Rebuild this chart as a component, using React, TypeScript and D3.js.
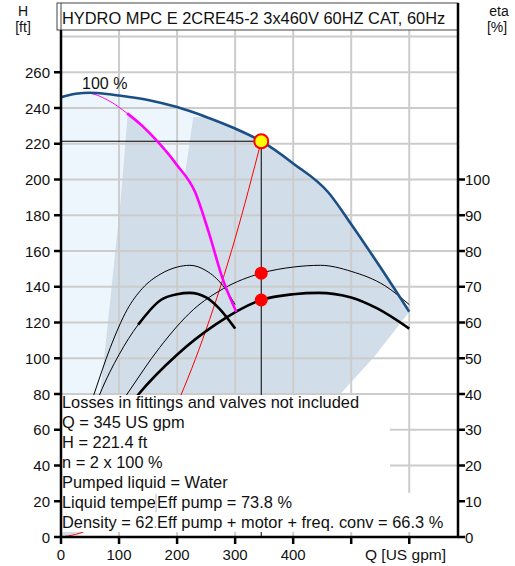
import React, { useEffect, useRef } from 'react';
import * as d3 from 'd3';

// QH curve, 2 pumps at 100 % speed
const qhFlow = [0, 25, 50, 75, 100, 150, 200, 250, 300, 345, 400, 460, 500, 550, 600];
const qhHead = [246, 248, 248.5, 248, 247, 244.5, 240.5, 235, 228.5, 221.4, 209, 193, 175, 151, 126];

// QH curve, 1 pump (magenta)
const oneFlow = [0, 25, 45, 80, 114, 140, 167, 200, 231, 255, 279, 302];
const oneHead = [246, 248, 248.3, 244.5, 237, 230, 221, 208, 193, 170, 144, 126];

// system curve
const sysFlow = [0, 50, 100, 150, 200, 250, 300, 345];
const sysHead = [0, 4.6, 18.6, 41.8, 74.4, 116, 167, 221.4];

// efficiency curves [%]
const etaP1Flow = [30, 57, 85, 114, 140, 172, 200, 222, 250, 279, 300];
const etaP1 = [27, 40, 53, 63.6, 69.5, 73.6, 75.5, 76, 74.5, 70.3, 65];
const etaP2Flow = [60, 114, 170, 228, 280, 345, 400, 447, 500, 558, 600];
const etaP2 = [27, 40, 53, 63.6, 69.5, 73.8, 75.5, 76, 74.3, 70.3, 65];
const etaT1Flow = [40, 67, 100, 133, 172, 200, 222, 250, 272, 300];
const etaT1 = [28, 40, 51, 59.4, 66.3, 67.9, 68.3, 67, 64, 58.3];
const etaT2Flow = [80, 134, 200, 266, 345, 400, 444, 500, 544, 600];
const etaT2 = [28, 40, 51, 59.4, 66.3, 67.9, 68.3, 67, 64, 58.3];

// operating range boundaries
const minOneFlow = [0, 40, 67, 74, 93, 102, 115];
const minOneHead = [0, 29, 80, 99, 158, 185, 237];
const maxOneFlow = [0, 100, 200, 302];
const maxOneHead = [0, 14, 55, 126];
const minTwoFlow = [0, 100, 150, 200, 214, 228];
const minTwoHead = [0, 45, 101, 180, 204, 235];
const maxTwoFlow = [0, 200, 300, 400, 484, 540, 600];
const maxTwoHead = [0, 14, 31, 56, 81, 101, 126];

// duty point
const dutyQ = 345;
const dutyH = 221.4;
const dutyEtaPump = 73.8;
const dutyEtaTotal = 66.3;

const headTicks = d3.range(0, 261, 20);
const etaTicks = d3.range(0, 101, 10);
const flowTicks = [0, 100, 200, 300, 400, 500, 600];
const flowLabels = ['0', '100', '200', '300', '400', '', ''];

const infoLines = [
  'Losses in fittings and valves not included',
  'Q = 345 US gpm',
  'H = 221.4 ft',
  'n = 2 x 100 %',
  'Pumped liquid = Water',
];
const infoLeft = ['Liquid tempe', 'Density = 62.'];
const infoRight = ['Eff pump = 73.8 %', 'Eff pump + motor + freq. conv = 66.3 %'];

const zip = (a: number[], b: number[]) => a.map((v, i) => [v, b[i]] as [number, number]);

const App = () => {
  const svgRef = useRef<SVGSVGElement>(null);

  useEffect(() => {
    const svg = d3.select(svgRef.current);
    svg.selectAll('*').remove();
    const font = 'Liberation Sans, Arial, sans-serif';

    const x = d3.scaleLinear().domain([0, 684]).range([61, 458]);
    const y = d3.scaleLinear().domain([0, 280]).range([537, 36.5]);
    const yEta = d3.scaleLinear().domain([0, 140]).range([537, 36.5]);

    const lineH = d3.line<[number, number]>().x((d) => x(d[0])).y((d) => y(d[1])).curve(d3.curveMonotoneX);
    const lineEta = d3.line<[number, number]>().x((d) => x(d[0])).y((d) => yEta(d[1])).curve(d3.curveMonotoneX);
    const poly = d3.line<[number, number]>().x((d) => x(d[0])).y((d) => y(d[1]));

    const qh = zip(qhFlow, qhHead);
    const one = zip(oneFlow, oneHead);

    svg.append('defs').append('clipPath').attr('id', 'leftcol')
      .append('rect').attr('x', 60).attr('y', 490).attr('width', 95.5).attr('height', 45);

    // shaded areas
    const light = [...qh, ...zip(maxTwoFlow, maxTwoHead).reverse()];
    svg.append('path').attr('d', poly(light) + 'Z').attr('fill', '#eef6fd');

    const grayOne = [
      ...zip(minOneFlow, minOneHead),
      ...one.filter((d) => d[0] > 115),
      ...zip(maxOneFlow, maxOneHead).reverse().slice(1),
    ];
    svg.append('path').attr('d', poly(grayOne) + 'Z').attr('fill', '#d1dde8');

    const grayTwo = [
      ...zip(minTwoFlow, minTwoHead),
      ...qh.filter((d) => d[0] > 228),
      ...zip(maxTwoFlow, maxTwoHead).reverse().slice(1),
    ];
    svg.append('path').attr('d', poly(grayTwo) + 'Z').attr('fill', '#d1dde8');

    // grid
    const grid = svg.append('g').attr('stroke', '#cccccc').attr('stroke-width', 2);
    d3.range(20, 281, 20).forEach((h) => {
      grid.append('line').attr('x1', x(0)).attr('x2', 458).attr('y1', y(h)).attr('y2', y(h));
    });
    flowTicks.slice(1).forEach((q) => {
      grid.append('line').attr('x1', x(q)).attr('x2', x(q)).attr('y1', 30).attr('y2', 537);
    });

    // system curve
    svg.append('path').attr('d', lineH(zip(sysFlow, sysHead))).attr('fill', 'none').attr('stroke', '#ff0000').attr('stroke-width', 1);

    // duty lines
    svg.append('line').attr('x1', x(0)).attr('x2', x(dutyQ)).attr('y1', y(dutyH)).attr('y2', y(dutyH)).attr('stroke', '#000').attr('stroke-width', 1);
    svg.append('line').attr('x1', x(dutyQ)).attr('x2', x(dutyQ)).attr('y1', y(dutyH)).attr('y2', 537).attr('stroke', '#000').attr('stroke-width', 1);

    // efficiency curves
    const eta = (qs: number[], es: number[], w: number, from = 0) => {
      svg.append('path').attr('d', lineEta(zip(qs, es).filter((d) => d[0] >= from))).attr('fill', 'none').attr('stroke', '#000').attr('stroke-width', w);
    };
    eta(etaP1Flow, etaP1, 1);
    eta(etaP2Flow, etaP2, 1);
    eta(etaT1Flow, etaT1, 1);
    eta(etaT1Flow, etaT1, 2.6, 133);
    eta(etaT2Flow, etaT2, 2.6);

    // one pump curve
    svg.append('path').attr('d', lineH(one)).attr('fill', 'none').attr('stroke', '#ff00ff').attr('stroke-width', 1);
    svg.append('path').attr('d', lineH(one.filter((d) => d[0] >= 114))).attr('fill', 'none').attr('stroke', '#ff00ff').attr('stroke-width', 2.6);

    // QH curve
    svg.append('path').attr('d', lineH(qh)).attr('fill', 'none').attr('stroke', '#1b4f86').attr('stroke-width', 2.6);

    // duty point markers
    svg.append('circle').attr('cx', x(dutyQ)).attr('cy', yEta(dutyEtaPump)).attr('r', 6.5).attr('fill', '#ff0000');
    svg.append('circle').attr('cx', x(dutyQ)).attr('cy', yEta(dutyEtaTotal)).attr('r', 6.5).attr('fill', '#ff0000');
    svg.append('circle').attr('cx', x(dutyQ)).attr('cy', y(dutyH)).attr('r', 7).attr('fill', '#ffff00').attr('stroke', '#ff0000').attr('stroke-width', 2);

    svg.append('text').attr('x', 82).attr('y', 89).attr('font-family', font).attr('font-size', 16).attr('fill', '#111').text('100 %');

    // info box
    svg.append('rect').attr('x', 62).attr('y', 395).attr('width', 328).attr('height', 98).attr('fill', '#fff');
    svg.append('rect').attr('x', 62).attr('y', 493).attr('width', 395).attr('height', 39).attr('fill', '#fff');
    infoLines.forEach((t, i) => {
      svg.append('text').attr('x', 62).attr('y', 408 + i * 20).attr('font-family', font).attr('font-size', 16.4).attr('fill', '#111').text(t);
    });
    svg.append('line').attr('x1', 156).attr('x2', 156).attr('y1', 494).attr('y2', 512).attr('stroke', '#bbb').attr('stroke-width', 1);
    infoLeft.forEach((t, i) => {
      svg.append('text').attr('x', 62).attr('y', 508 + i * 20).attr('clip-path', 'url(#leftcol)').attr('font-family', font).attr('font-size', 16.4).attr('fill', '#111').text(t);
    });
    infoRight.forEach((t, i) => {
      svg.append('text').attr('x', 157).attr('y', 508 + i * 20).attr('font-family', font).attr('font-size', 16.4).attr('fill', '#111').text(t);
    });

    // title
    svg.append('rect').attr('x', 57).attr('y', 3).attr('width', 401).attr('height', 27).attr('fill', '#fff').attr('stroke', '#444').attr('stroke-width', 1);
    svg.append('line').attr('x1', 61).attr('x2', 61).attr('y1', 3).attr('y2', 30).attr('stroke', '#444').attr('stroke-width', 1);
    svg.append('text').attr('x', 62).attr('y', 24).attr('font-family', font).attr('font-size', 16.4).attr('fill', '#111').text('HYDRO MPC E 2CRE45-2 3x460V 60HZ CAT, 60Hz');

    // axes
    const axes = svg.append('g').attr('stroke', '#000').attr('stroke-width', 2.5);
    axes.append('line').attr('x1', 61).attr('x2', 61).attr('y1', 30).attr('y2', 538);
    axes.append('line').attr('x1', 458).attr('x2', 458).attr('y1', 3).attr('y2', 538);
    axes.append('line').attr('x1', 60).attr('x2', 459).attr('y1', 537).attr('y2', 537);

    headTicks.forEach((h) => {
      axes.append('line').attr('x1', 54).attr('x2', 61).attr('y1', y(h)).attr('y2', y(h));
      svg.append('text').attr('x', 50).attr('y', y(h) + 5.5).attr('text-anchor', 'end').attr('font-family', font).attr('font-size', 15).attr('fill', '#111').text(h);
    });
    etaTicks.forEach((e) => {
      axes.append('line').attr('x1', 458).attr('x2', 465).attr('y1', yEta(e)).attr('y2', yEta(e));
      svg.append('text').attr('x', 465).attr('y', yEta(e) + 5.5).attr('font-family', font).attr('font-size', 15).attr('fill', '#111').text(e);
    });
    flowTicks.forEach((q, i) => {
      axes.append('line').attr('x1', x(q)).attr('x2', x(q)).attr('y1', 537).attr('y2', 544);
      svg.append('text').attr('x', x(q)).attr('y', 560).attr('text-anchor', 'middle').attr('font-family', font).attr('font-size', 15).attr('fill', '#111').text(flowLabels[i]);
    });

    const label = (t: string, lx: number, ly: number, size = 15, anchor = 'middle') => {
      svg.append('text').attr('x', lx).attr('y', ly).attr('text-anchor', anchor).attr('font-family', font).attr('font-size', size).attr('fill', '#111').text(t);
    };
    label('H', 23, 16, 14);
    label('[ft]', 23, 32, 14);
    label('eta', 499, 16, 14);
    label('[%]', 497, 32, 14);
    label('Q [US gpm]', 365, 560, 15.5, 'start');
  }, []);

  return <svg ref={svgRef} width={515} height={566} style={{ position: 'absolute', left: 0, top: 0 }} />;
};

export default App;
